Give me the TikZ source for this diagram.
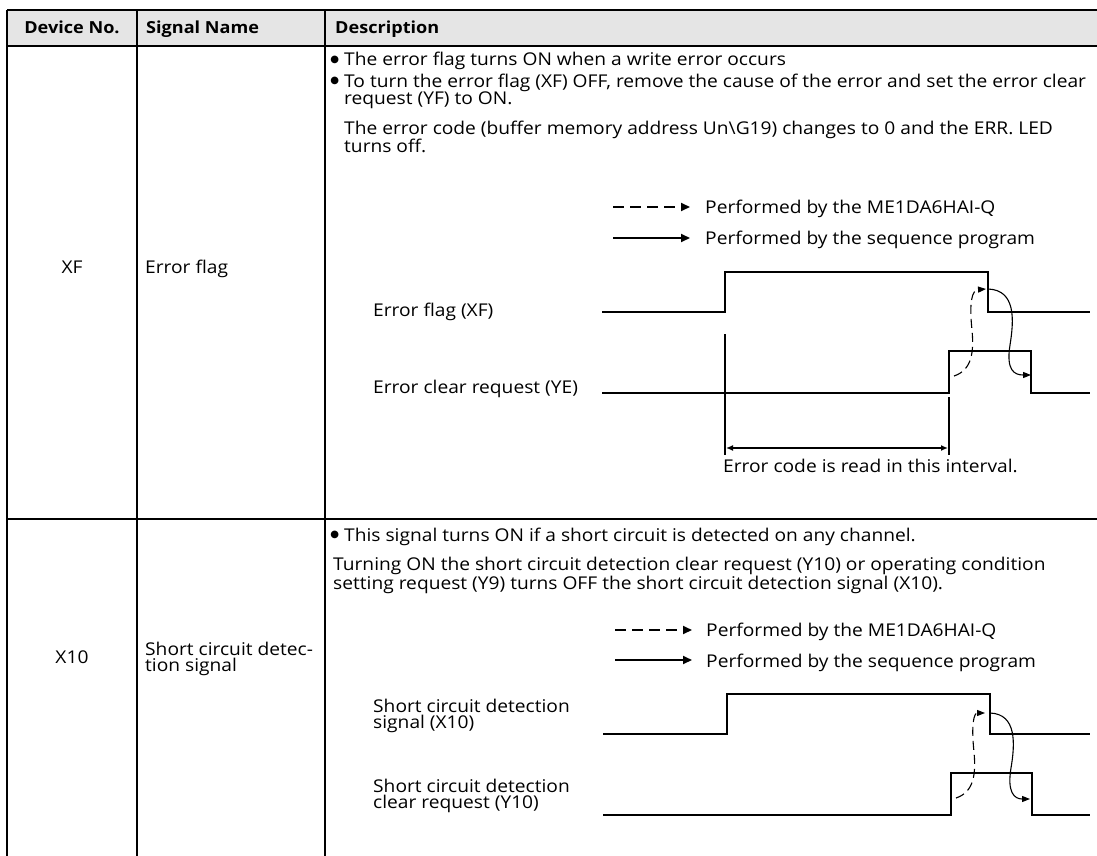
\documentclass[tikz,border=0pt]{standalone}
\usepackage{fontspec}
\setmainfont{Open Sans}[FakeStretch=1.09]
\newfontfamily\symfont{DejaVu Sans}
\usetikzlibrary{arrows.meta}
\tikzset{
	txt/.style={anchor=base west, inner sep=0pt, align=left, font=\fontsize{17.6}{16}\selectfont},
	ctxt/.style={txt, anchor=base},
	hdr/.style={txt, font=\fontsize{16.6}{16}\selectfont\bfseries},
	tline/.style={line width=2.6pt},
	wave/.style={line width=1.1pt},
	marker/.style={line width=2.2pt},
	legdash/.style={line width=1.8pt, dash pattern=on 11pt off 6pt, -{Triangle[length=9pt,width=8pt]}},
	legsolid/.style={line width=1.8pt, -{Triangle[length=9pt,width=8pt]}},
	dflow/.style={line width=1.1pt, dash pattern=on 9pt off 5pt, -{Triangle[length=8pt,width=6pt]}},
	sflow/.style={line width=1.1pt, -{Triangle[length=8pt,width=6pt]}},
}
\newcommand{\bul}{\llap{\raisebox{3.5pt}{\symfont\fontsize{10}{10}\selectfont ●}\hspace{5pt}}}

\begin{document}
\begin{tikzpicture}[x=1pt, y=-1pt]
			%%%%% START %%%%%
			\useasboundingbox (0, 0) rectangle (1097, 856);
			
			\fill[black!10] (7, 10) rectangle (1097, 46);
			\draw[tline] (7, 10) -- (1097, 10);
			\draw[tline] (7, 46) -- (1097, 46);
			\draw[line width=2.2pt] (7, 519) -- (1097, 519);
			\draw[tline] (7, 10) -- (7, 856);
			\draw[tline] (137, 10) -- (137, 856);
			\draw[tline] (325, 10) -- (325, 856);
			
			\node[hdr, anchor=base] (hdev) at (72, 34) {Device No.};
			\node[hdr] (hsig) at (146, 34) {Signal Name};
			\node[hdr] (hdesc) at (335, 34) {Description};
			
			\node[ctxt] (xf-dev) at (72, 273) {XF};
			\node[txt] (xf-sig) at (145, 273) {Error flag};
			\node[txt] (xf-b1) at (344, 66) {\bul The error flag turns ON when a write error occurs};
			\node[txt] (xf-b2) at (344, 105) {\bul To turn the error flag (XF) OFF, remove the cause of the error and set the error clear\\request (YF) to ON.};
			\node[txt] (xf-p1) at (344, 153) {The error code (buffer memory address Un\textbackslash G19) changes to 0 and the ERR. LED\\turns off.};
			
			\draw[legdash] (613, 207) -- (690, 207);
			\node[txt] (xf-leg1) at (705, 213) {Performed by the ME1DA6HAI-Q};
			\draw[legsolid] (613, 238) -- (690, 238);
			\node[txt] (xf-leg2) at (705, 244) {Performed by the sequence program};
			
			\node[txt] (xf-l1) at (373, 316) {Error flag (XF)};
			\node[txt] (xf-l2) at (373, 393) {Error clear request (YE)};
			\draw[wave] (602, 312) -- (725, 312) -- (725, 272) -- (988, 272) -- (988, 312) -- (1090, 312);
			\draw[wave] (602, 393) -- (949, 393) -- (949, 351) -- (1031, 351) -- (1031, 393) -- (1090, 393);
			
			\draw[marker] (725, 334) -- (725, 455);
			\draw[marker] (949, 397) -- (949, 455);
			\draw[line width=1.6pt, {Latex[length=7pt,width=6pt]}-{Latex[length=7pt,width=6pt]}] (726, 448) -- (948, 448);
			\node[txt] (xf-int) at (723, 472) {Error code is read in this interval.};
			
			\draw[dflow] (954, 376) .. controls (972, 370) and (974, 352) .. (972, 330) .. controls (969, 302) and (972, 290) .. (986, 289);
			\draw[sflow] (988, 289) .. controls (1016, 290) and (1014, 320) .. (1010, 345) .. controls (1006, 370) and (1014, 375) .. (1031, 375);
			
			\node[ctxt] (x10-dev) at (72, 663) {X10};
			\node[txt] (x10-sig) at (145, 671) {Short circuit detec-\\tion signal};
			\node[txt] (x10-b1) at (344, 541) {\bul This signal turns ON if a short circuit is detected on any channel.};
			\node[txt] (x10-p1) at (333, 589) {Turning ON the short circuit detection clear request (Y10) or operating condition\\setting request (Y9) turns OFF the short circuit detection signal (X10).};
			
			\draw[legdash] (615, 630) -- (692, 630);
			\node[txt] (x10-leg1) at (706, 636) {Performed by the ME1DA6HAI-Q};
			\draw[legsolid] (615, 660) -- (692, 660);
			\node[txt] (x10-leg2) at (706, 667) {Performed by the sequence program};
			
			\node[txt] (x10-l1) at (373, 728) {Short circuit detection\\signal (X10)};
			\node[txt] (x10-l2) at (373, 808) {Short circuit detection\\clear request (Y10)};
			\draw[wave] (603, 734) -- (727, 734) -- (727, 694) -- (990, 694) -- (990, 734) -- (1090, 734);
			\draw[wave] (603, 815) -- (951, 815) -- (951, 773) -- (1032, 773) -- (1032, 815) -- (1090, 815);
			
			\draw[dflow] (956, 798) .. controls (974, 792) and (976, 774) .. (974, 752) .. controls (971, 724) and (974, 713) .. (985, 713);
			\draw[sflow] (990, 713) .. controls (1017, 714) and (1015, 744) .. (1011, 768) .. controls (1007, 792) and (1014, 799) .. (1030, 799);
			
			%%%%% END %%%%%
\end{tikzpicture}
\end{document}
